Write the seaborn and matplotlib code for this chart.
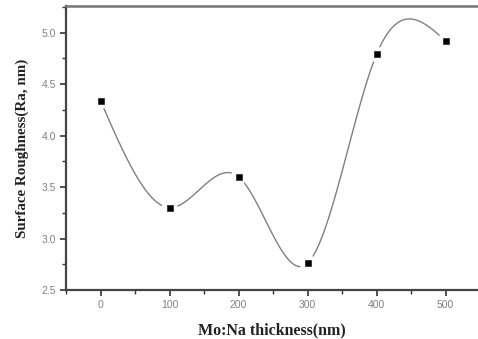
import numpy as np
import pandas as pd
import matplotlib
matplotlib.use("Agg")
import matplotlib.pyplot as plt
import seaborn as sns
from matplotlib.ticker import MultipleLocator

thickness = [0, 100, 200, 300, 400, 500]
roughness = [4.34, 3.30, 3.60, 2.76, 4.79, 4.92]
x_label = "Mo:Na thickness(nm)"
y_label = "Surface Roughness(Ra, nm)"


def natural_spline(x, y, n=600):
    x = np.asarray(x, float); y = np.asarray(y, float)
    k = len(x)
    h = np.diff(x)
    A = np.zeros((k, k)); b = np.zeros(k)
    A[0, 0] = A[-1, -1] = 1
    for i in range(1, k - 1):
        A[i, i - 1] = h[i - 1]
        A[i, i] = 2 * (h[i - 1] + h[i])
        A[i, i + 1] = h[i]
        b[i] = 3 * ((y[i + 1] - y[i]) / h[i] - (y[i] - y[i - 1]) / h[i - 1])
    c = np.linalg.solve(A, b)
    xs = np.linspace(x[0], x[-1], n)
    idx = np.clip(np.searchsorted(x, xs) - 1, 0, k - 2)
    dx = xs - x[idx]
    bb = (y[idx + 1] - y[idx]) / h[idx] - h[idx] * (2 * c[idx] + c[idx + 1]) / 3
    dd = (c[idx + 1] - c[idx]) / (3 * h[idx])
    ys = y[idx] + bb * dx + c[idx] * dx ** 2 + dd * dx ** 3
    return xs, ys, idx


sns.set_theme(style="white")
plt.rcParams["font.family"] = ["Liberation Sans", "DejaVu Sans"]

fig = plt.figure(figsize=(4.78, 3.39), dpi=100)
ax = fig.add_axes([66 / 478, 49 / 339, 1 - 66 / 478, 284 / 339])

xs, ys, seg = natural_spline(thickness, roughness)
# gap near symbols (in approximate pixel units)
px_x = 100 / 69.0
px_y = 1 / 102.8
d = np.min([np.hypot((xs - tx) / px_x, (ys - ty) / px_y) for tx, ty in zip(thickness, roughness)], axis=0)
keep = d >= 8
curve = pd.DataFrame({"x": xs[keep], "y": ys[keep], "seg": seg[keep]})
sns.lineplot(data=curve, x="x", y="y", units="seg", ax=ax, color="#808080",
             linewidth=1.0, sort=False, estimator=None)

pts = pd.DataFrame({"x": thickness, "y": roughness})
sns.scatterplot(data=pts, x="x", y="y", ax=ax, marker="s", s=22, color="black", edgecolor="black", zorder=5)

ax.set_xlim(-50, 547)
ax.set_ylim(2.5, 5.26)
ax.set_xticks(thickness)
ax.set_yticks([2.5, 3.0, 3.5, 4.0, 4.5, 5.0])
ax.set_yticklabels(["2.5", "3.0", "3.5", "4.0", "4.5", "5.0"])
ax.xaxis.set_minor_locator(MultipleLocator(50))
ax.yaxis.set_minor_locator(MultipleLocator(0.25))
ax.tick_params(which="major", direction="out", length=4, width=1.2, color="#333333",
               labelsize=7.5, labelcolor="#808080", pad=3, bottom=True, left=True)
ax.tick_params(which="minor", direction="out", length=3, width=1.0, color="#333333", bottom=True, left=True)

for side in ["left", "bottom"]:
    ax.spines[side].set_color("#444444")
    ax.spines[side].set_linewidth(1.6)
ax.spines["top"].set_color("#777777")
ax.spines["top"].set_linewidth(1.8)
ax.spines["right"].set_visible(False)

ax.set_xlabel(x_label, family=["Liberation Serif"], fontweight="bold", fontsize=11.5, labelpad=9, color="#222222")
ax.set_ylabel(y_label, family=["Liberation Serif"], fontweight="bold", fontsize=10.8, labelpad=9, color="#222222")

fig.savefig("out.png", dpi=100)
